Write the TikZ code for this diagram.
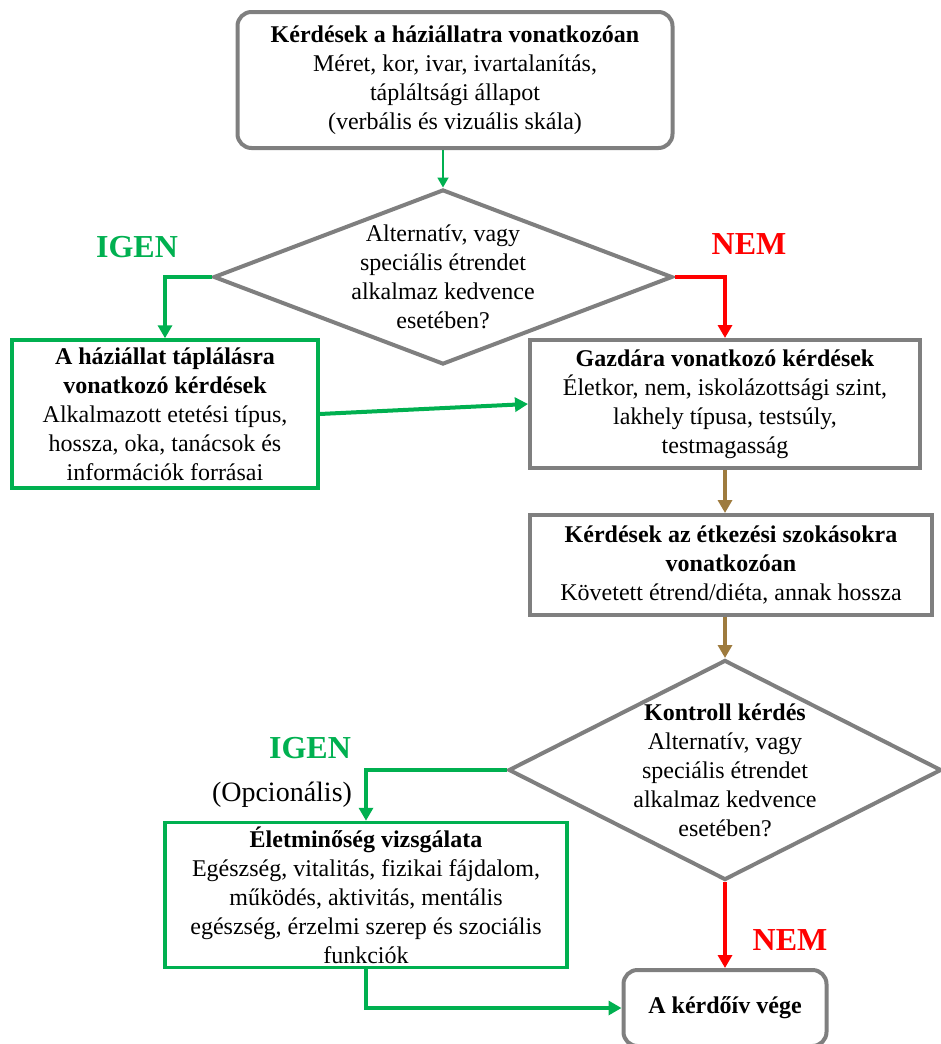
\documentclass[tikz,border=0pt]{standalone}
\usepackage{fontspec}
\setmainfont{Liberation Serif}
\usetikzlibrary{arrows.meta, positioning, shapes.geometric}
\definecolor{boxgray}{HTML}{7F7F7F}
\definecolor{yesgreen}{HTML}{00B050}
\definecolor{nored}{HTML}{FF0000}
\definecolor{arrbrown}{HTML}{9E7B3E}

\begin{document}
\begin{tikzpicture}[x=1pt, y=-1pt,
  txt/.style={font=\fontsize{24}{29}\selectfont, align=center},
  startbox/.style={txt, draw=boxgray, line width=4pt, rounded corners=14pt},
  graybox/.style={txt, draw=boxgray, line width=4pt},
  greenbox/.style={txt, draw=yesgreen, line width=3.5pt},
  decision/.style={txt, diamond, draw=boxgray, line width=4pt, inner sep=-6pt},
  lbl/.style={font=\fontsize{32}{32}\selectfont\bfseries},
  arr/.style={-{Triangle[length=13pt, width=14pt]}, line width=3.5pt}
]
\useasboundingbox (0,0) rectangle (941,1044);

% boxes and decisions
\node[startbox, minimum width=435, minimum height=136] (pet) at (455,80)
  {\textbf{Kérdések a háziállatra vonatkozóan}\\Méret, kor, ivar, ivartalanítás,\\tápláltsági állapot\\(verbális és vizuális skála)};
\node[decision, aspect=2.62, minimum width=459, minimum height=175] (diet) at (443,277)
  {Alternatív, vagy\\speciális étrendet\\alkalmaz kedvence\\esetében?};
\node[greenbox, minimum width=306, minimum height=148] (feeding) at (165,414)
  {\textbf{A háziállat táplálásra}\\\textbf{vonatkozó kérdések}\\Alkalmazott etetési típus,\\hossza, oka, tanácsok és\\információk forrásai};
\node[graybox, minimum width=390, minimum height=128] (owner) at (725,404)
  {\textbf{Gazdára vonatkozó kérdések}\\Életkor, nem, iskolázottsági szint,\\lakhely típusa, testsúly,\\testmagasság};
\node[graybox, minimum width=402, minimum height=100] (habits) at (731,565)
  {\textbf{Kérdések az étkezési szokásokra}\\\textbf{vonatkozóan}\\Követett étrend/diéta, annak hossza};
\node[decision, aspect=1.97, minimum width=433, minimum height=220] (control) at (725,770)
  {\textbf{Kontroll kérdés}\\Alternatív, vagy\\speciális étrendet\\alkalmaz kedvence\\esetében?};
\node[greenbox, minimum width=402, minimum height=145] (quality) at (366,895)
  {\textbf{Életminőség vizsgálata}\\Egészség, vitalitás, fizikai fájdalom,\\működés, aktivitás, mentális\\egészség, érzelmi szerep és szociális\\funkciók};
\node[startbox, minimum width=203, minimum height=76] (finish) at (725,1008)
  {\textbf{A kérdőív vége}};

% branch labels
\node[lbl, text=yesgreen] (yes1) at (137,247) {IGEN};
\node[lbl, text=nored] (no1) at (749,244) {NEM};
\node[lbl, text=yesgreen] (yes2) at (310,748) {IGEN};
\node[font=\fontsize{28}{28}\selectfont] (optional) at (282,795) {(Opcionális)};
\node[lbl, text=nored] (no2) at (790,940) {NEM};

% connectors
\draw[yesgreen, line width=1.8pt, -{Triangle[length=10pt, width=11pt]}] (diet.north |- pet.south) -- (diet.north);
\draw[arr, yesgreen] (diet.west) -| (feeding.north);
\draw[arr, nored] (diet.east) -| (owner.north);
\draw[arr, yesgreen, line width=4pt] (feeding.east) -- (owner.west);
\draw[arr, arrbrown] (owner.south) -- (owner.south |- habits.north);
\draw[arr, arrbrown] (control.north |- habits.south) -- (control.north);
\draw[arr, yesgreen] (control.west) -| (quality.north);
\draw[arr, nored] (control.south) -- (finish.north);
\draw[arr, yesgreen] (quality.south) |- (finish.west);
\end{tikzpicture}
\end{document}
